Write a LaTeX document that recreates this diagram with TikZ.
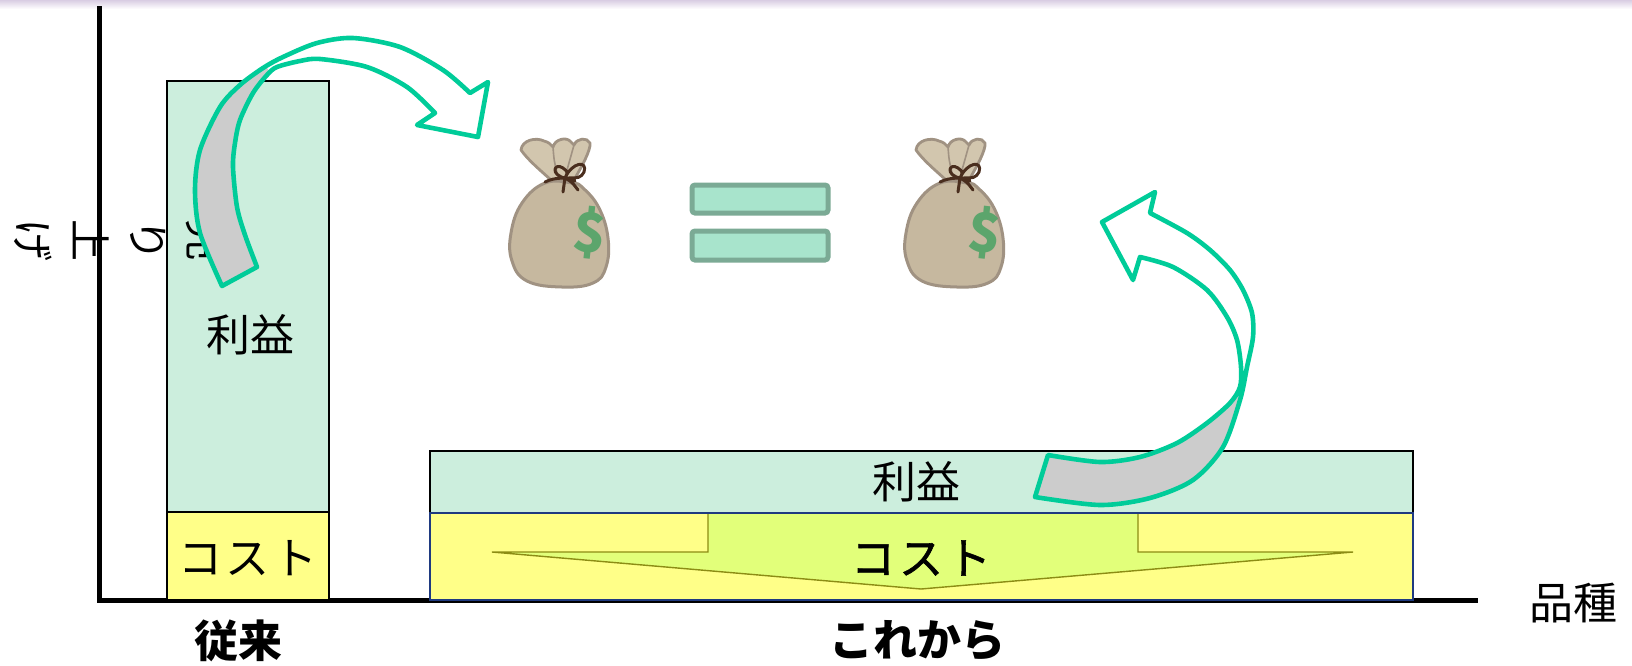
\documentclass[tikz,border=0pt]{standalone}
\usepackage{fontspec}
\newfontfamily\jp{Noto Sans CJK JP}
\newfontfamily\jpm[FakeBold=1.3]{Noto Sans CJK JP}
\usetikzlibrary{calc}

\definecolor{profit}{HTML}{CCEEDD}
\definecolor{costy}{HTML}{FFFF88}
\definecolor{stemc}{HTML}{E2FF7A}
\definecolor{stemline}{HTML}{8C8C14}
\definecolor{costline}{HTML}{1F3A80}
\definecolor{arrowline}{HTML}{00CC99}
\definecolor{backgray}{HTML}{CCCCCC}
\definecolor{eqfill}{HTML}{A8E4CC}
\definecolor{eqline}{HTML}{7BAA95}
\definecolor{bagbody}{HTML}{C6B89F}
\definecolor{bagtop}{HTML}{D2C6AE}
\definecolor{bagedge}{HTML}{A09282}
\definecolor{bagtie}{HTML}{4A2E1E}
\definecolor{bagdollar}{HTML}{5CA56C}
\definecolor{topband}{HTML}{D9CDE3}

\tikzset{
  lbl/.style={font=\jp\fontsize{22}{24}\selectfont, inner sep=0pt},
  lblm/.style={font=\jpm\fontsize{22}{24}\selectfont, inner sep=0pt},
  lblb/.style={font=\jp\bfseries\fontsize{22}{24}\selectfont, inner sep=0pt},
  ylbl/.style={font=\jp\fontsize{21}{22}\selectfont, rotate=-90, inner sep=0pt},
  barline/.style={draw=black, line width=0.7pt},
  bandline/.style={draw=arrowline, line width=2.3pt, line join=round},
  % curved band arrow from the old bar to the left bag
  bandA/.style={insert path={
    plot[smooth] coordinates {(222,286) (200,233) (195,190) (200,150) (220,107)
      (240,85) (263,68) (283,57) (317,43) (353,38) (400,47) (443,70) (470,93)}
    -- (488,82) -- (478,137) -- (417,125)
    -- plot[smooth] coordinates {(435,113) (407,87) (367,67) (320,59) (300,61)
      (277,67) (267,75) (253,93) (240,120) (235,143) (233,167) (237,207)
      (245,235) (257,267)}
    -- cycle}},
  % curved band arrow from the new bar to the right bag
  bandB/.style={insert path={
    plot[smooth] coordinates {(1035,497) (1100,505) (1150,498) (1193,480)
      (1223,447) (1240,400) (1247,367) (1253,337) (1252,313) (1243,290)
      (1230,270) (1210,250) (1187,233) (1150,213)}
    -- (1155,192) -- (1102,222) -- (1133,280)
    -- plot[smooth] coordinates {(1140,257) (1173,267) (1207,290) (1227,317)
      (1237,340) (1241,367) (1240,387) (1230,403) (1207,423) (1177,443)
      (1140,457) (1100,462) (1048,455)}
    -- cycle}},
  moneybag/.pic={
    \filldraw[fill=bagbody, draw=bagedge, line width=1.5pt]
      plot[smooth cycle, tension=0.7] coordinates {(-15,-47) (-38,-27) (-49,3)
        (-48,31) (-33,51) (2,57) (33,53) (46,37) (48,8) (39,-22) (23,-42) (12,-47)};
    \filldraw[fill=bagtop, draw=bagedge, line width=1.4pt, line join=round]
      (-9,-50) .. controls (-20,-60) and (-32,-70) .. (-39,-80)
      .. controls (-38,-90) and (-24,-93) .. (-16,-89)
      .. controls (-12,-88) and (-9,-86) .. (-7,-83)
      .. controls (-5,-91) and (6,-93) .. (10,-89)
      .. controls (12,-87) .. (14,-85)
      .. controls (17,-92) and (27,-93) .. (30,-87)
      .. controls (31,-80) and (22,-64) .. (14,-50) -- cycle;
    \draw[bagedge, line width=0.8pt] (-7,-83) .. controls (-6,-70) .. (-3,-57)
      (14,-85) .. controls (11,-72) .. (7,-60);
    \draw[bagtie, line width=1.5pt, line cap=round, line join=round]
      (-15,-48) .. controls (-5,-53) and (8,-53) .. (15,-49)
      (5,-52) .. controls (-10,-55) and (-6,-68) .. (3,-62) .. controls (8,-58) .. (5,-52)
      (5,-52) .. controls (12,-68) and (28,-70) .. (24,-58) .. controls (20,-52) .. (5,-52)
      (5,-52) -- (3,-38)
      (5,-52) .. controls (12,-48) .. (18,-40);
    \node[font=\jp\bfseries\fontsize{27}{27}\selectfont, text=bagdollar,
      inner sep=0pt, rotate=-6] (-d) at (30,3) {\$};
  }
}

\begin{document}
\begin{tikzpicture}[x=0.5pt,y=-0.5pt]
\useasboundingbox (0,0) rectangle (1632,665);
\fill[white] (0,0) rectangle (1632,665);
\shade[top color=topband, bottom color=white] (0,0) rectangle (1632,9);

% axes
\coordinate (ytop) at (99,6);
\coordinate (origin) at (99,600);
\coordinate (xend) at (1478,600);
\draw[line width=2.5pt, line join=miter] (ytop) -- (origin) -- (xend);

% former product: one tall bar
\filldraw[fill=profit, barline] (167,81) rectangle (329,512);
\filldraw[fill=costy, barline] (167,512) rectangle (329,600);

% new products: one wide bar
\filldraw[fill=profit, barline] (430,451) rectangle (1413,513);
\filldraw[fill=costy, draw=costline, line width=0.8pt] (430,513) rectangle (1413,600);
\filldraw[fill=stemc, draw=stemline, line width=0.7pt, line join=miter]
  (708,514) -- (708,552) -- (492,552) -- (921,589) -- (1353,552) -- (1138,552) -- (1138,514);

% labels
\node[lbl] (profitA) at (250,335) {利益};
\node[lbl] (costA) at (248,558) {コ\kern2pt ス\kern2pt ト};
\node[lblb] (oldlbl) at (238,641) {従来};
\node[lbl] (profitB) at (916,482) {利益};
\node[lblm] (costB) at (921,558) {コ\kern2pt ス\kern2pt ト};
\node[lblb] (newlbl) at (917,641) {これから};
\node[lbl] (xlbl) at (1573,603) {品種};

% vertical axis title
\node[ylbl] (y1) at (205,240) {売};
\node[ylbl] (y2) at (148,240) {り};
\node[ylbl] (y3) at (91,240) {上};
\node[ylbl] (y4) at (33,240) {げ};

% left curved arrow
\fill[white, bandA];
\begin{scope}
  \clip (222,-7) -- (467,400) -- (0,400) -- (0,-7) -- cycle;
  \fill[backgray, bandA];
\end{scope}
\path[bandline, bandA];

% right curved arrow
\fill[white, bandB];
\begin{scope}
  \clip (1000,392) rectangle (1300,530);
  \fill[backgray, bandB];
\end{scope}
\path[bandline, bandB];

% money bags and equals sign
\pic (bagL) at (560,230) {moneybag};
\pic (bagR) at (955,230) {moneybag};
\filldraw[fill=eqfill, draw=eqline, line width=2.5pt, rounded corners=1.5pt]
  (692,185) rectangle (828,213)
  (692,231) rectangle (828,260);
\end{tikzpicture}
\end{document}
